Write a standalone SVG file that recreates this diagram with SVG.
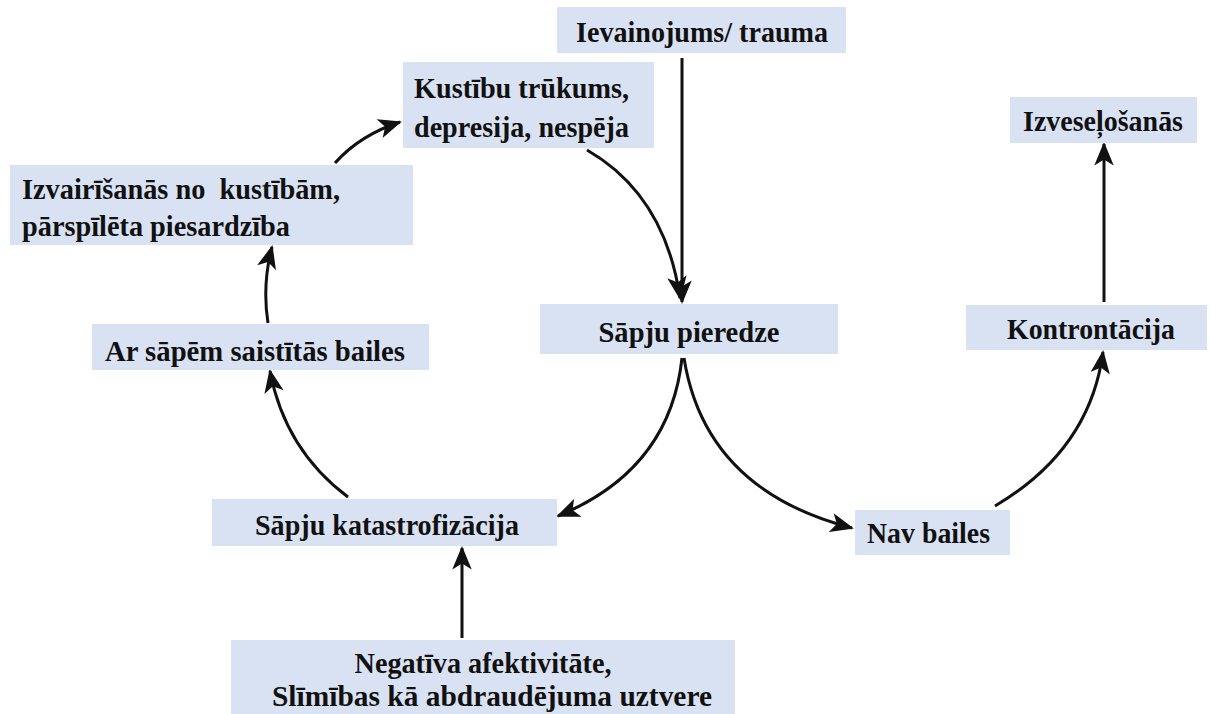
<svg xmlns="http://www.w3.org/2000/svg" width="1210" height="714" viewBox="0 0 1210 714">
<defs>
<style>
.box{fill:#d9e2f3}
.t{font-family:"Liberation Serif","Times New Roman",serif;font-weight:bold;font-size:30px;fill:#111;white-space:pre}
.c{stroke:#111;stroke-width:3;fill:none;marker-end:url(#ah)}
</style>
<marker id="ah" viewBox="0 0 12 10" refX="11" refY="5" markerWidth="8" markerHeight="6.5" markerUnits="strokeWidth" orient="auto">
<path d="M0,0 L12,5 L0,10 L3,5 Z" fill="#111"/>
</marker>
</defs>
<rect width="1210" height="714" fill="#fff"/>
<g id="connectors">
<path class="c" d="M682,58 L682,302"/>
<path class="c" d="M587,150 Q665,195 680,298"/>
<path class="c" d="M682,358 Q670,470 558,516"/>
<path class="c" d="M684,358 Q705,490 852,528"/>
<path class="c" d="M995,506 Q1090,450 1103,352"/>
<path class="c" d="M1104,302 L1104,144"/>
<path class="c" d="M462,638 L462,548"/>
<path class="c" d="M348,497 Q285,450 270,371"/>
<path class="c" d="M268,323 Q262,285 272,247"/>
<path class="c" d="M335,163 Q360,135 400,122"/>
</g>
<g id="n-trauma"><rect class="box" x="557" y="7" width="289" height="46"/><text class="t" x="702" y="42" text-anchor="middle" textLength="252" lengthAdjust="spacingAndGlyphs">Ievainojums/ trauma</text></g>
<g id="n-kustibu"><rect class="box" x="403" y="62" width="251" height="86"/><text class="t" x="414" y="98" textLength="215" lengthAdjust="spacingAndGlyphs">Kustību trūkums,</text><text class="t" x="414" y="137" textLength="215" lengthAdjust="spacingAndGlyphs">depresija, nespēja</text></g>
<g id="n-izvesel"><rect class="box" x="1010" y="97" width="187" height="46"/><text class="t" x="1103" y="131" text-anchor="middle" textLength="160" lengthAdjust="spacingAndGlyphs">Izveseļošanās</text></g>
<g id="n-izvair"><rect class="box" x="10" y="165" width="403" height="80"/><text class="t" x="22" y="199" textLength="318" lengthAdjust="spacingAndGlyphs">Izvairīšanās no  kustībām,</text><text class="t" x="22" y="236" textLength="268" lengthAdjust="spacingAndGlyphs">pārspīlēta piesardzība</text></g>
<g id="n-pieredze"><rect class="box" x="540" y="304" width="298" height="50"/><text class="t" x="689" y="342" text-anchor="middle" textLength="181" lengthAdjust="spacingAndGlyphs">Sāpju pieredze</text></g>
<g id="n-kontr"><rect class="box" x="966" y="305" width="241" height="45"/><text class="t" x="1091" y="339" text-anchor="middle" textLength="168" lengthAdjust="spacingAndGlyphs">Kontrontācija</text></g>
<g id="n-bailes"><rect class="box" x="92" y="324" width="337" height="46"/><text class="t" x="105" y="361" textLength="300" lengthAdjust="spacingAndGlyphs">Ar sāpēm saistītās bailes</text></g>
<g id="n-katastr"><rect class="box" x="212" y="499" width="345" height="47"/><text class="t" x="387" y="535" text-anchor="middle" textLength="264" lengthAdjust="spacingAndGlyphs">Sāpju katastrofizācija</text></g>
<g id="n-nav"><rect class="box" x="855" y="510" width="155" height="45"/><text class="t" x="867" y="543" textLength="123" lengthAdjust="spacingAndGlyphs">Nav bailes</text></g>
<g id="n-negat"><rect class="box" x="231" y="640" width="504" height="74"/><text class="t" x="483" y="673" text-anchor="middle" textLength="257" lengthAdjust="spacingAndGlyphs">Negatīva afektivitāte,</text><text class="t" x="492" y="706" text-anchor="middle" textLength="440" lengthAdjust="spacingAndGlyphs">Slīmības kā abdraudējuma uztvere</text></g>
</svg>
